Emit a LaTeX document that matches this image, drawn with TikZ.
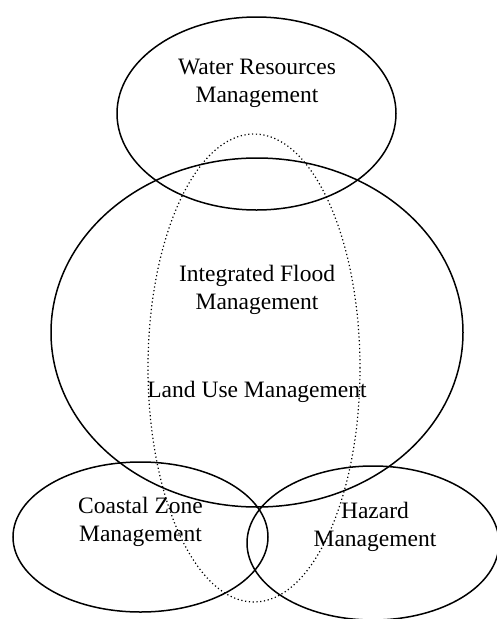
\documentclass[tikz,border=0pt]{standalone}
\usepackage{fontspec}
\setmainfont{Liberation Serif}
\begin{document}
\begin{tikzpicture}[x=1pt,y=-1pt,
  ring/.style={line width=1.5pt},
  dotring/.style={line width=1.2pt, dash pattern=on 1.2pt off 2.6pt},
  lbl/.style={align=center, anchor=base, inner sep=0pt,
    font=\fontsize{23.5pt}{27.7pt}\selectfont}]
\useasboundingbox (0,0) rectangle (497,619);
% overlapping management domains
\draw[ring] (256.5,113.5) ellipse [x radius=139.5pt, y radius=96.5pt];
\draw[ring] (257,332.5) ellipse [x radius=206pt, y radius=174.5pt];
\draw[dotring] (254,368) ellipse [x radius=106pt, y radius=234pt];
\draw[ring] (140.5,537) ellipse [x radius=127.5pt, y radius=75pt];
\draw[ring] (373,543) ellipse [x radius=126pt, y radius=77pt];
% labels (anchored at the baseline of the last line)
\node[lbl] (wrm) at (257,102) {Water Resources\\Management};
\node[lbl] (ifm) at (257,309) {Integrated Flood\\Management};
\node[lbl] (lum) at (257,397) {Land Use Management};
\node[lbl] (czm) at (140.5,541) {Coastal Zone\\Management};
\node[lbl] (hzm) at (375,546) {Hazard\\Management};
\end{tikzpicture}
\end{document}
